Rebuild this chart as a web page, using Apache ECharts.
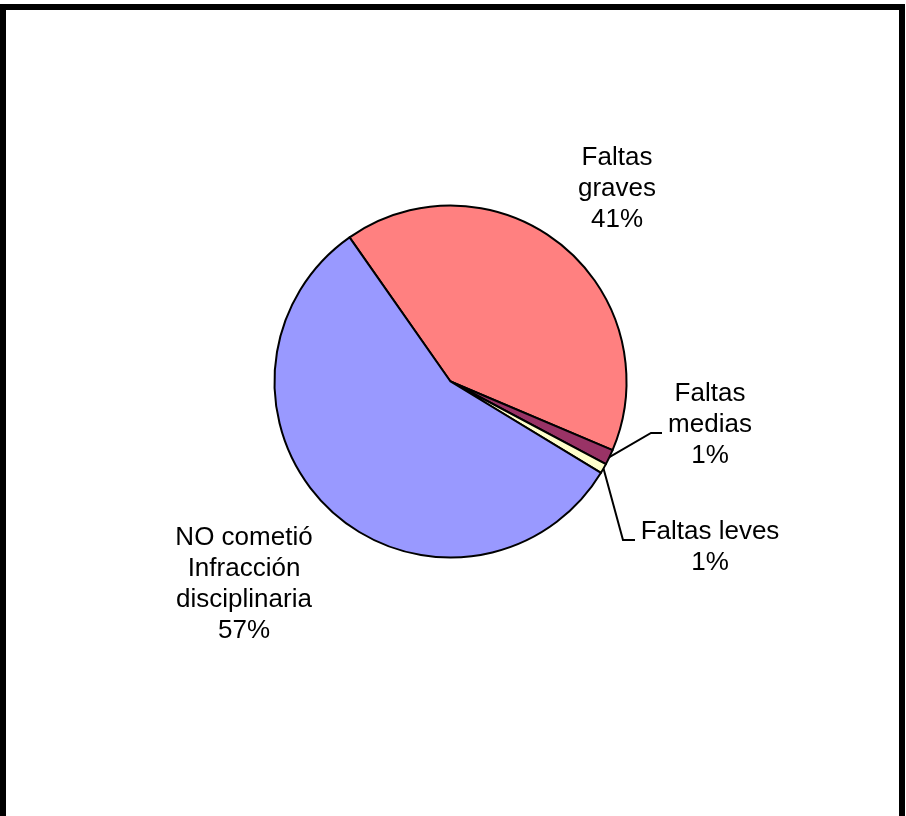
<!DOCTYPE html>
<html>
<head>
<meta charset="utf-8">
<script src="https://cdn.jsdelivr.net/npm/echarts@6/dist/echarts.min.js"></script>
<style>
html,body{margin:0;padding:0;background:#fff;}
#chart{width:906px;height:816px;}
</style>
</head>
<body>
<div id="chart"></div>
<script>
const categories = ['Faltas graves', 'Faltas medias', 'Faltas leves', 'NO cometió Infracción disciplinaria'];
const labelTexts = ['Faltas\ngraves', 'Faltas\nmedias', 'Faltas leves', 'NO cometió\nInfracción\ndisciplinaria'];
const values = [41.1, 1.4, 0.9, 56.6];
const colors = ['#FF8080', '#993366', '#FFFFCC', '#9999FF'];

// label placement (layout, not data)
const labelPos = [
  {x: 617, y: 189, line: false},
  {x: 710, y: 425, line: true, elbow: [651, 433], end: [662, 433]},
  {x: 710, y: 547, line: true, elbow: [623, 540], end: [635, 540]},
  {x: 244, y: 584, line: false}
];

const chart = echarts.init(document.getElementById('chart'), null, {renderer: 'canvas'});
chart.setOption({
  backgroundColor: '#fff',
  animation: false,
  graphic: [{
    type: 'rect',
    shape: {x: 3, y: 7, width: 899, height: 840},
    style: {fill: 'none', stroke: '#000', lineWidth: 6},
    silent: true
  }],
  series: [{
    type: 'pie',
    center: [450.5, 381.5],
    radius: [0, 176],
    startAngle: 125,
    clockwise: true,
    avoidLabelOverlap: false,
    itemStyle: {borderColor: '#000', borderWidth: 2},
    emphasis: {disabled: true},
    label: {
      show: true,
      position: 'outside',
      fontFamily: '"Liberation Sans", Arial, sans-serif',
      fontSize: 26,
      lineHeight: 31,
      color: '#000',
      align: 'center',
      formatter: function (p) {
        return labelTexts[p.dataIndex] + '\n' + Math.round(p.percent) + '%';
      }
    },
    labelLine: {show: true, length: 10, length2: 10, lineStyle: {color: '#000', width: 2}},
    labelLayout: function (params) {
      const lp = labelPos[params.dataIndex];
      const res = {x: lp.x, y: lp.y, align: 'center', verticalAlign: 'middle'};
      if (lp.line && params.labelLinePoints) {
        const start = params.labelLinePoints[0];
        res.labelLinePoints = [start, lp.elbow, lp.end];
      }
      return res;
    },
    data: categories.map(function (c, i) {
      return {
        name: c,
        value: values[i],
        itemStyle: {color: colors[i]},
        labelLine: {show: labelPos[i].line}
      };
    })
  }]
});
</script>
</body>
</html>
